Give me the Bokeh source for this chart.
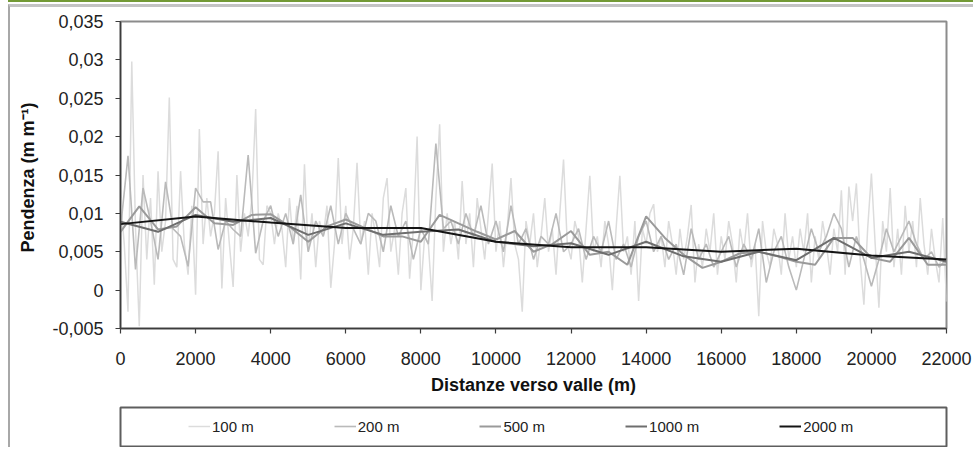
from bokeh.plotting import figure
from bokeh.models import Range1d, FixedTicker, Legend, LegendItem
from bokeh.layouts import column
from bokeh.embed import file_html
from bokeh.resources import INLINE

FONT = "Liberation Sans"

# ---------------- data ----------------
x_ticks = [0, 2000, 4000, 6000, 8000, 10000, 12000, 14000, 16000, 18000, 20000, 22000]
x_tick_labels = ["0", "2000", "4000", "6000", "8000", "10000", "12000", "14000",
                 "16000", "18000", "20000", "22000"]
y_ticks = [-0.005, 0.0, 0.005, 0.01, 0.015, 0.02, 0.025, 0.03, 0.035]
y_tick_labels = ["-0,005", "0", "0,005", "0,01", "0,015", "0,02", "0,025", "0,03", "0,035"]

series_names = ["100 m", "200 m", "500 m", "1000 m", "2000 m"]

dist_100 = list(range(0, 22001, 100))
dist_200 = list(range(0, 22001, 200))
dist_500 = list(range(0, 22001, 500))
dist_1000 = list(range(0, 22001, 1000))
dist_2000 = list(range(0, 22001, 2000))

slope_100 = [
    0.0120, 0.0060, -0.0028, 0.0298, 0.0080, -0.0047, 0.0150, 0.0040, 0.0120, 0.0007,
    0.0155, 0.0050, 0.0090, 0.0251, 0.0040, 0.0030, 0.0155, 0.0060, 0.0020, 0.0110,
    -0.0006, 0.0210, 0.0060, 0.0120, 0.0070, 0.0100, 0.0181, 0.0002, 0.0120, 0.0060,
    0.0004, 0.0150, 0.0050, 0.0100, 0.0070, 0.0120, 0.0236, 0.0040, 0.0033, 0.0110,
    0.0100, 0.0060, 0.0100, 0.0080, 0.0030, 0.0120, 0.0060, 0.0110, 0.0014, 0.0164,
    0.0050, 0.0100, 0.0030, 0.0090, 0.0070, 0.0110, 0.0003, 0.0060, 0.0172, 0.0060,
    0.0110, 0.0040, 0.0080, 0.0166, 0.0060, 0.0090, 0.0020, 0.0100, 0.0070, 0.0030,
    0.0120, 0.0146, 0.0050, 0.0080, 0.0020, 0.0100, 0.0133, 0.0015, 0.0080, 0.0200,
    0.0000, 0.0070, 0.0060, -0.0014, 0.0120, 0.0216, 0.0050, 0.0100, 0.0060, 0.0090,
    0.0040, 0.0142, 0.0060, 0.0100, 0.0030, 0.0120, 0.0080, 0.0040, 0.0100, 0.0165,
    0.0050, 0.0090, 0.0030, 0.0080, 0.0146, 0.0060, 0.0040, -0.0028, 0.0090, 0.0060,
    0.0100, 0.0030, 0.0070, 0.0120, 0.0050, 0.0080, 0.0020, 0.0100, 0.0170, 0.0060,
    0.0040, 0.0090, 0.0070, 0.0010, 0.0080, 0.0149, 0.0050, 0.0070, 0.0030, 0.0090,
    0.0060, 0.0000, 0.0080, 0.0149, 0.0050, 0.0070, 0.0020, 0.0090, -0.0014, 0.0080,
    0.0060, 0.0100, 0.0112, 0.0050, 0.0070, 0.0030, 0.0090, 0.0060, 0.0020, 0.0080,
    0.0040, 0.0070, 0.0111, 0.0010, 0.0060, 0.0030, 0.0080, 0.0050, 0.0100, 0.0020,
    0.0070, 0.0040, 0.0090, 0.0060, 0.0010, 0.0080, 0.0050, 0.0100, 0.0030, 0.0060,
    -0.0034, 0.0090, 0.0050, 0.0030, 0.0080, 0.0060, 0.0020, 0.0100, 0.0040, 0.0070,
    0.0030, 0.0080, 0.0050, 0.0100, 0.0010, 0.0070, 0.0040, 0.0090, 0.0060, 0.0020,
    0.0080, 0.0050, 0.0130, 0.0020, 0.0135, 0.0090, 0.0139, 0.0040, -0.0019, 0.0080,
    0.0152, 0.0060, -0.0023, 0.0090, 0.0050, 0.0133, 0.0030, 0.0080, 0.0020, 0.0110,
    0.0050, 0.0090, 0.0030, 0.0120, 0.0060, 0.0020, 0.0080, 0.0040, 0.0010, 0.0094,
    -0.0015,
]

slope_200 = [
    0.0080, 0.0175, 0.0027, 0.0133, 0.0090, 0.0040, 0.0141, 0.0080, 0.0070, 0.0031,
    0.0133, 0.0115, 0.0115, 0.0053, 0.0090, 0.0079, 0.0070, 0.0176, 0.0048, 0.0090,
    0.0110, 0.0070, 0.0100, 0.0060, 0.0124, 0.0050, 0.0090, 0.0070, 0.0110, 0.0060,
    0.0100, 0.0080, 0.0060, 0.0100, 0.0090, 0.0050, 0.0110, 0.0070, 0.0090, 0.0040,
    0.0080, 0.0060, 0.0191, 0.0080, 0.0090, 0.0060, 0.0100, 0.0070, 0.0110, 0.0060,
    0.0090, 0.0050, 0.0110, 0.0060, 0.0080, 0.0040, 0.0070, 0.0060, 0.0100, 0.0050,
    0.0060, 0.0080, 0.0040, 0.0070, 0.0050, 0.0090, 0.0040, 0.0060, 0.0030, 0.0070,
    0.0090, 0.0050, 0.0070, 0.0040, 0.0060, 0.0020, 0.0080, 0.0040, 0.0060, 0.0030,
    0.0050, 0.0070, 0.0030, 0.0060, 0.0040, 0.0080, 0.0010, 0.0050, 0.0070, 0.0030,
    0.0000, 0.0040, 0.0080, 0.0050, 0.0070, 0.0100, 0.0080, 0.0030, 0.0070, 0.0040,
    0.0005, 0.0040, 0.0080, 0.0050, 0.0070, 0.0090, 0.0060, 0.0040, 0.0050, 0.0030,
    0.0040,
]

slope_500 = [
    0.0076, 0.0109, 0.0079, 0.0083, 0.0108, 0.0087, 0.0085, 0.0098, 0.0099, 0.0083,
    0.0063, 0.0083, 0.0092, 0.0081, 0.0070, 0.0070, 0.0063, 0.0098, 0.0087, 0.0076,
    0.0066, 0.0077, 0.0050, 0.0060, 0.0077, 0.0046, 0.0050, 0.0033, 0.0096, 0.0068,
    0.0046, 0.0029, 0.0037, 0.0048, 0.0050, 0.0044, 0.0037, 0.0033, 0.0068, 0.0068,
    0.0042, 0.0037, 0.0068, 0.0033, 0.0033,
]

slope_1000 = [
    0.0089, 0.0076, 0.0098, 0.0089, 0.0094, 0.0072, 0.0087, 0.0072, 0.0076, 0.0079,
    0.0063, 0.0057, 0.0061, 0.0046, 0.0063, 0.0044, 0.0037, 0.0050, 0.0039, 0.0068,
    0.0042, 0.0050, 0.0037,
]

slope_2000 = [0.0086, 0.0096, 0.0088, 0.0081, 0.0081, 0.0063, 0.0056, 0.0056,
              0.0050, 0.0054, 0.0045, 0.0040]

series_x = [dist_100, dist_200, dist_500, dist_1000, dist_2000]
series_y = [slope_100, slope_200, slope_500, slope_1000, slope_2000]
series_colors = ["#dcdcdc", "#bababa", "#9a9a9a", "#6e6e6e", "#141414"]
series_widths = [1.5, 1.6, 2.0, 2.0, 2.0]

# ---------------- main chart ----------------
p = figure(width=963, height=391, output_backend="svg", toolbar_location=None,
           x_range=Range1d(0, 22000), y_range=Range1d(-0.005, 0.035),
           min_border_left=110, min_border_right=27, min_border_top=14,
           min_border_bottom=70, background_fill_color="white",
           border_fill_color="white")

for xs, ys, c, w in zip(series_x, series_y, series_colors, series_widths):
    p.line(xs, ys, line_color=c, line_width=w)

p.grid.visible = False
p.outline_line_color = "#8c8c8c"
p.outline_line_width = 2

p.xaxis.ticker = FixedTicker(ticks=x_ticks)
p.xaxis.major_label_overrides = {t: l for t, l in zip(x_ticks, x_tick_labels)}
p.yaxis.ticker = FixedTicker(ticks=y_ticks)
p.yaxis.major_label_overrides = {t: l for t, l in zip(y_ticks, y_tick_labels)}

p.xaxis.axis_label = "Distanze verso valle (m)"
p.yaxis.axis_label = "Pendenza  (m m\u207b\u00b9)"

for ax in (p.xaxis, p.yaxis):
    ax.axis_line_color = "#3c3c3c"
    ax.axis_line_width = 1.5
    ax.major_tick_line_color = "#3c3c3c"
    ax.major_tick_line_width = 1.2
    ax.major_tick_out = 5
    ax.major_tick_in = 0
    ax.minor_tick_out = 0
    ax.minor_tick_in = 0
    ax.major_label_text_font = FONT
    ax.major_label_text_font_size = "18px"
    ax.major_label_text_color = "#222222"
    ax.axis_label_text_font = FONT
    ax.axis_label_text_font_size = "18px"
    ax.axis_label_text_font_style = "bold"
    ax.axis_label_text_color = "#111111"

p.xaxis.major_label_standoff = 18
p.xaxis.axis_label_standoff = 7
p.yaxis.major_label_standoff = 12
p.yaxis.axis_label_standoff = 11

# ---------------- legend box ----------------
lg = figure(width=963, height=49, output_backend="svg", toolbar_location=None,
            x_range=Range1d(0, 1), y_range=Range1d(0, 1),
            x_axis_location=None, y_axis_location=None,
            min_border_left=108, min_border_right=27, min_border_top=9,
            min_border_bottom=1, background_fill_color="white",
            border_fill_color="white")
lg.grid.visible = False
lg.outline_line_color = "#5e5e5e"
lg.outline_line_width = 2

nan = float("nan")
items = []
for name, c, w in zip(series_names, series_colors, series_widths):
    r = lg.line(x=[nan], y=[nan], line_color=c, line_width=w)
    items.append(LegendItem(label=name, renderers=[r]))

legend = Legend(items=items, location=(68, 10), orientation="horizontal",
                spacing=80, padding=0, margin=0, glyph_width=22, label_standoff=2,
                border_line_alpha=0, background_fill_alpha=0,
                label_text_font=FONT, label_text_font_size="15px",
                label_text_color="#222222")
lg.add_layout(legend, "center")

layout = column(p, lg, styles={
    "margin-left": "8px",
    "margin-top": "4px",
    "border-left": "2px solid #a8a8a8",
    "border-top": "3px solid #c4c4c4",
    "box-shadow": "0 -2px 0 0 #ffffff, 0 -4px 0 0 #739a36",
})

open("out.html", "w").write(file_html(layout, INLINE))
